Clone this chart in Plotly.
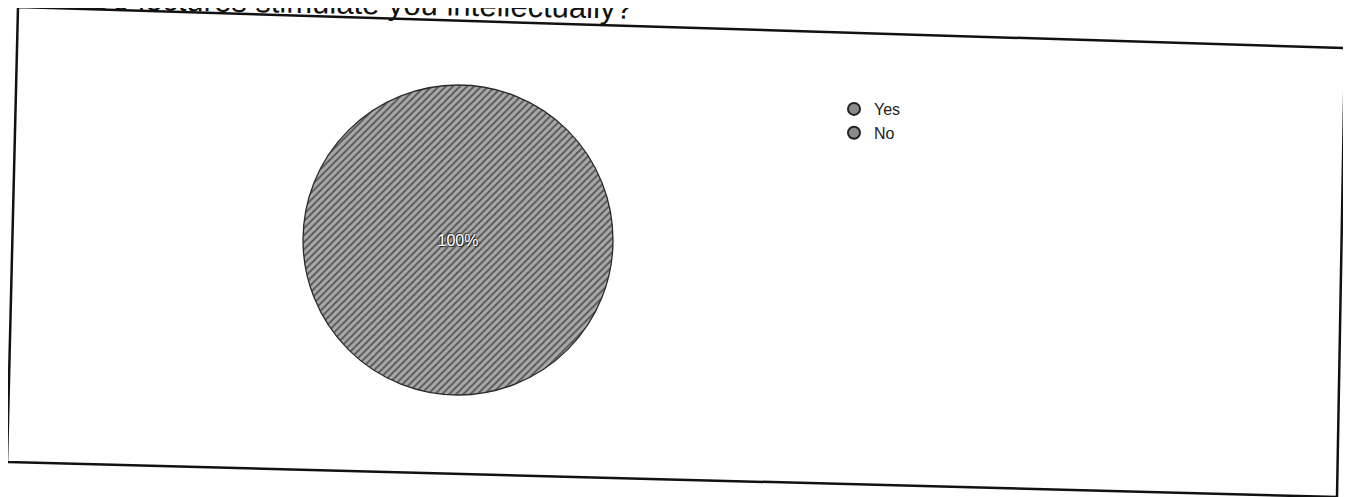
import plotly.graph_objects as go

# ---- data ----
labels = ["Yes", "No"]
values = [100, 0]
title_text = "Do lectures stimulate you intellectually?"

W, H = 1351, 497
OFF = 8  # page body margin in the browser


def px(x):
    return (x - OFF) / W


def py(y):
    return 1 - (y - OFF) / H


slice_color = "#8f8f8f"
total = sum(values)
pie_labels = [l for l, v in zip(labels, values) if v > 0]
pie_values = [v for v in values if v > 0]
pie_texts = [f"{v / total * 100:.0f}%" for v in pie_values]

fig = go.Figure()

fig.add_trace(go.Pie(
    labels=pie_labels,
    values=pie_values,
    text=pie_texts,
    textinfo="text",
    textposition="inside",
    insidetextfont=dict(color="white", size=16,
                        family="Liberation Sans, Arial, sans-serif",
                        shadow="1px 1px 1px #222, -1px -1px 1px #222"),
    sort=False,
    direction="clockwise",
    marker=dict(
        colors=[slice_color] * len(pie_values),
        line=dict(color="#2a2a2a", width=1.3),
        pattern=dict(shape="/", fgcolor="#555555", bgcolor="#a8a8a8", size=5, solidity=0.35),
    ),
    domain=dict(x=[px(303), px(613)], y=[py(395), py(85)]),
    showlegend=False,
    hoverinfo="label+percent",
))

# legend entries with circular markers
for lab in labels:
    fig.add_trace(go.Scatter(
        x=[None], y=[None], mode="markers", name=lab,
        marker=dict(symbol="circle", size=12, color="#8a8a8a",
                    line=dict(color="#222222", width=2)),
        showlegend=True,
    ))

# skewed scanned frame
corners = [(18, 7), (1345, 48), (1337, 497), (7, 462)]
path = "M " + " L ".join(f"{px(x)} {py(y)}" for x, y in corners) + " Z"
fig.add_shape(
    type="path",
    path=path,
    xref="paper", yref="paper",
    line=dict(color="#111111", width=2.5),
)

fig.add_annotation(
    text=title_text,
    xref="paper", yref="paper",
    x=px(88), y=py(28),
    xanchor="left", yanchor="bottom",
    showarrow=False,
    textangle=1.0,
    font=dict(size=31, color="#111111", family="Liberation Sans, Arial, sans-serif"),
)

fig.update_layout(
    width=W, height=H,
    margin=dict(l=0, r=0, t=0, b=0),
    paper_bgcolor="white",
    plot_bgcolor="white",
    xaxis=dict(visible=False, domain=[0.999, 1.0]),
    yaxis=dict(visible=False, domain=[0.999, 1.0]),
    legend=dict(
        x=px(834), y=py(92), xanchor="left", yanchor="top",
        font=dict(size=16, color="#222222", family="Liberation Sans, Arial, sans-serif"),
        bgcolor="rgba(0,0,0,0)",
        itemsizing="constant",
        tracegroupgap=0,
        itemwidth=30,
    ),
)

fig.write_html("out.html")
